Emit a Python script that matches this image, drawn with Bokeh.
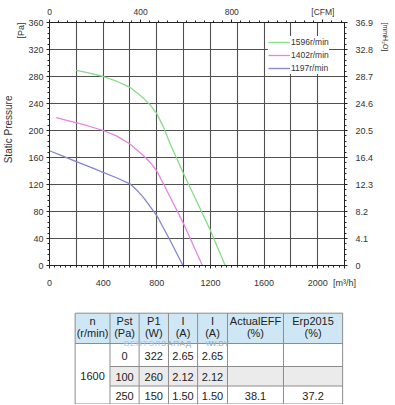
from bokeh.plotting import figure
from bokeh.models import Range1d, LinearAxis, FixedTicker, Legend, LegendItem, Title
from bokeh.layouts import column
from bokeh.embed import file_html
from bokeh.resources import INLINE
from bokeh.core.properties import value

FONT = "Liberation Sans"

# ---------------- data ----------------
GREEN_Q = [200, 300, 400, 500, 600, 700, 750, 800, 850, 900, 950, 1000, 1100, 1200, 1310]
GREEN_P = [289, 285, 280, 273, 264, 248, 238, 225, 205, 180, 158, 136, 94, 52, 0]

MAGENTA_Q = [50, 150, 250, 400, 500, 600, 700, 750, 800, 850, 900, 1000, 1140]
MAGENTA_P = [219, 214, 209, 200, 192, 180, 163, 153, 140, 121, 101, 62, 0]

BLUE_Q = [0, 100, 200, 300, 400, 500, 600, 650, 700, 800, 900, 995]
BLUE_P = [170, 162, 154, 146, 138, 130, 121, 112, 101, 74, 37, 0]

LEGEND_LABELS = ["1596r/min", "1402r/min", "1197r/min"]
CURVE_COLORS = ["#86dc86", "#e485e4", "#8585d4"]

X_TICKS = [0, 400, 800, 1200, 1600, 2000, 2200]
X_LABELS = {2200: "[m³/h]"}
X_GRID = [0, 200, 400, 600, 800, 1000, 1200, 1400, 1600, 1800, 2000, 2200]
Y_TICKS = [0, 40, 80, 120, 160, 200, 240, 280, 320, 360]
MM_TICKS = [0, 4.1, 8.2, 12.3, 16.4, 20.5, 24.6, 28.7, 32.8, 36.9]
CFM_TICKS = [0, 400, 800, 1200]
CFM_LABELS = {1200: "[CFM]"}
M3H_PER_CFM = 1.699

HEADER_TOP = ["n", "Pst", "P1", "I", "I", "ActualEFF", "Erp2015"]
HEADER_BOTTOM = ["(r/min)", "(Pa)", "(W)", "(A)", "(A)", "(%)", "(%)"]
SPEED = "1600"
PST = ["0", "100", "250"]
P1 = ["322", "260", "150"]
I1 = ["2.65", "2.12", "1.50"]
I2 = ["2.65", "2.12", "1.50"]
EFF = ["", "", "38.1"]
ERP = ["", "", "37.2"]

# ---------------- chart ----------------
p = figure(width=395, height=290, x_range=Range1d(0, 2200), y_range=Range1d(0, 360),
           output_backend="svg", toolbar_location=None,
           min_border_left=49, min_border_right=48, min_border_top=22, min_border_bottom=25)
p.outline_line_color = "#222222"
p.background_fill_color = "white"

p.extra_x_ranges = {"cfm": Range1d(0, 2200 / M3H_PER_CFM)}
p.extra_y_ranges = {"mm": Range1d(0, 36.9)}


def style_axis(ax, size="9px"):
    ax.axis_line_color = "#222222"
    ax.axis_line_width = 1
    ax.major_tick_line_color = "#222222"
    ax.minor_tick_line_color = "#222222"
    ax.major_tick_in = 0
    ax.major_tick_out = 3
    ax.minor_tick_in = 0
    ax.minor_tick_out = 2
    ax.major_label_text_font = FONT
    ax.major_label_text_font_size = size
    ax.major_label_text_color = "#333333"


bottom = p.below[0]
bottom.ticker = FixedTicker(ticks=X_TICKS, minor_ticks=list(range(0, 2201, 40)))
bottom.major_label_overrides = X_LABELS
style_axis(bottom)
bottom.major_label_standoff = 9

left = p.left[0]
left.ticker = FixedTicker(ticks=Y_TICKS, minor_ticks=list(range(0, 361, 8)))
style_axis(left)
left.major_label_standoff = 3

right = LinearAxis(y_range_name="mm",
                   ticker=FixedTicker(ticks=MM_TICKS, minor_ticks=[i * 0.82 for i in range(46)]))
style_axis(right)
right.major_label_standoff = 8
right.major_label_overrides = {0: "0"}
p.add_layout(right, "right")

top = LinearAxis(x_range_name="cfm",
                 ticker=FixedTicker(ticks=CFM_TICKS, minor_ticks=list(range(0, 1295, 40))))
style_axis(top, size="8.5px")
top.major_label_standoff = 3
top.major_label_overrides = CFM_LABELS
p.add_layout(top, "above")

p.xgrid[0].ticker = FixedTicker(ticks=X_GRID)
for g in (p.xgrid[0], p.ygrid[0]):
    g.grid_line_color = "#505050"
    g.grid_line_width = 1.1

r1 = p.line(GREEN_Q, GREEN_P, line_color=CURVE_COLORS[0], line_width=1.3)
r2 = p.line(MAGENTA_Q, MAGENTA_P, line_color=CURVE_COLORS[1], line_width=1.3)
r3 = p.line(BLUE_Q, BLUE_P, line_color=CURVE_COLORS[2], line_width=1.3)

legend = Legend(items=[LegendItem(label=LEGEND_LABELS[0], renderers=[r1]),
                       LegendItem(label=LEGEND_LABELS[1], renderers=[r2]),
                       LegendItem(label=LEGEND_LABELS[2], renderers=[r3])],
                location=(219, 191))
legend.background_fill_color = "white"
legend.background_fill_alpha = 1
legend.border_line_color = None
legend.padding = 3
legend.spacing = 1
legend.margin = 0
legend.glyph_width = 22
legend.glyph_height = 12
legend.label_height = 12
legend.label_standoff = 1
legend.label_text_font = FONT
legend.label_text_font_size = "8.5px"
legend.label_text_color = "#333333"
p.add_layout(legend)

# side titles (units and axis name)
t_pa = Title(text="[Pa]", align="right", text_font=FONT, text_font_size="9px",
             text_font_style="normal", text_color="#333333", standoff=0)
p.add_layout(t_pa, "left")
t_sp = Title(text="Static Pressure", align="right", offset=73, text_font=FONT,
             text_font_size="10px", text_font_style="normal", text_color="#333333",
             standoff=0)
p.add_layout(t_sp, "left")
t_mm = Title(text="[mmH₂O]", align="left", text_font=FONT, text_font_size="7px",
             text_font_style="normal", text_color="#333333", standoff=10)
p.add_layout(t_mm, "right")

# ---------------- table ----------------
TH = 114
t = figure(width=395, height=TH, x_range=Range1d(0, 395), y_range=Range1d(TH, 0),
           output_backend="svg", toolbar_location=None,
           x_axis_location=None, y_axis_location=None,
           min_border_left=0, min_border_right=0, min_border_top=0, min_border_bottom=0)
t.outline_line_color = None
t.xgrid.visible = False
t.ygrid.visible = False

COL_EDGES = [34.3, 81, 120, 159.3, 198.3, 238.3, 313.3, 392.5]
HDR = (22.7, 53)
ROWS = [(53, 76), (76, 95.5), (95.5, 113.5)]
ROW_TEXT_Y = [65, 86, 105]
centers = [(COL_EDGES[i] + COL_EDGES[i + 1]) / 2 for i in range(7)]

t.quad(left=[COL_EDGES[0]], right=[COL_EDGES[-1]], top=[HDR[0]], bottom=[HDR[1]],
       fill_color="#cfe7f5", line_color=None)
t.quad(left=[COL_EDGES[1]], right=[COL_EDGES[-1]], top=[ROWS[1][0]], bottom=[ROWS[1][1]],
       fill_color="#ebebeb", line_color=None)

xs, ys = [], []
for e in COL_EDGES:
    xs.append([e, e]); ys.append([HDR[0], ROWS[-1][1]])
for yv in (HDR[0], HDR[1], ROWS[-1][1]):
    xs.append([COL_EDGES[0], COL_EDGES[-1]]); ys.append([yv, yv])
for yv in (ROWS[0][1], ROWS[1][1]):
    xs.append([COL_EDGES[1], COL_EDGES[-1]]); ys.append([yv, yv])
t.multi_line(xs, ys, line_color="#8c8c8c", line_width=1)

tf = dict(text_font=value(FONT), text_font_size="11px", text_align="center",
          text_baseline="middle", text_color="#222222")
t.text(x=centers, y=[HDR[0] + 7.5] * 7, text=HEADER_TOP, **tf)
t.text(x=centers, y=[HDR[0] + 20] * 7, text=HEADER_BOTTOM, **tf)
t.text(x=[centers[0]], y=[85], text=[SPEED], **tf)
for ci, colvals in enumerate([PST, P1, I1, I2, EFF, ERP], start=1):
    keep = [(y, s) for y, s in zip(ROW_TEXT_Y, colvals) if s]
    t.text(x=[centers[ci]] * len(keep), y=[k[0] for k in keep], text=[k[1] for k in keep], **tf)

# watermark
WM_BLUE = ["В", "Е", "Н", "Т", "Э", "Л"]
WM_GREY = ["З", "А", "П", "А", "Д"]
wm = dict(text_font=value(FONT), text_font_size="8px", text_align="center",
          text_baseline="middle")
t.text(x=[103 + i * 8.3 for i in range(6)], y=[53] * 6, text=WM_BLUE, text_color="#8ccbef", **wm)
t.text(x=[103 + (i + 6) * 8.3 for i in range(5)], y=[53] * 5, text=WM_GREY, text_color="#a8a8a8", **wm)
t.text(x=[214], y=[53], text=["W"], text_color="#8ccbef", **wm)
t.text(x=[227], y=[53], text=["W.BY"], text_color="#a8a8a8", **wm)

layout = column(p, t)
open("out.html", "w").write(file_html(layout, INLINE))
